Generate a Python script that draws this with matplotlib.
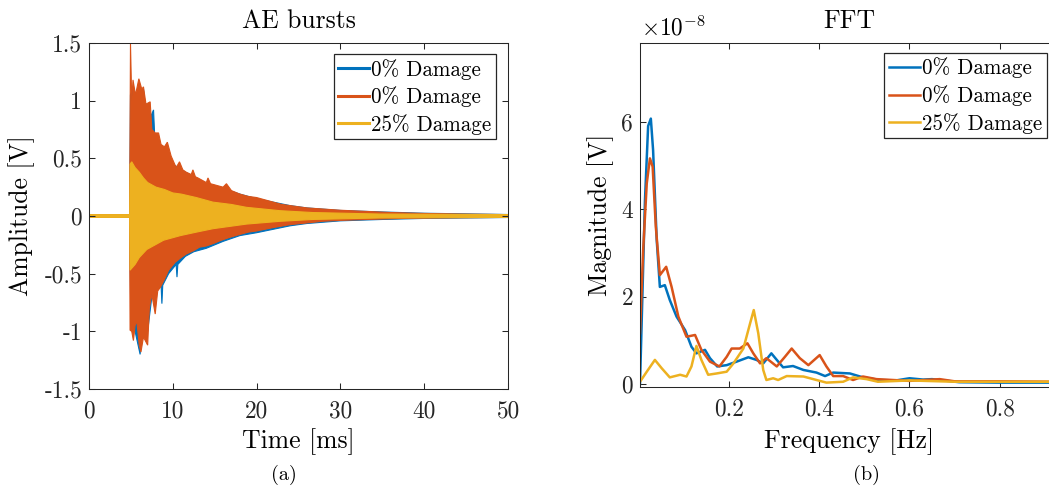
import numpy as np
import matplotlib
matplotlib.use("Agg")
import matplotlib.pyplot as plt

plt.rcParams['font.family'] = 'cmr10'
plt.rcParams['mathtext.fontset'] = 'cm'
plt.rcParams['axes.unicode_minus'] = False

c_blue = '#0072BD'
c_orange = '#D95319'
c_yellow = '#EDB120'
labels = ['0% Damage', '0% Damage', '25% Damage']

# AE bursts: envelope of the dense signal (time in ms, amplitude in V)
blue_up_t = [0, 4.85, 4.95, 5.3, 5.6, 6.5, 6.8, 7.3, 7.7, 7.9, 9.0, 10.0, 11.5, 13.0, 14.0,
             16.0, 18.0, 20.0, 22.0, 24.0, 26.0, 30.0, 35.0, 40.0, 50.0]
blue_up = [0.012, 0.012, 1.05, 1.12, 0.95, 1.1, 0.9, 0.85, 0.92, 0.6, 0.55, 0.45, 0.38, 0.32, 0.28,
           0.24, 0.19, 0.15, 0.12, 0.09, 0.07, 0.048, 0.035, 0.024, 0.013]
blue_lo_t = [0, 4.85, 5.0, 5.5, 6.1, 6.3, 7.0, 7.5, 8.6, 8.7, 8.8, 9.5, 10.4, 10.5, 10.6, 11.5,
             12.5, 14.0, 16.0, 18.0, 20.0, 22.0, 24.0, 26.0, 30.0, 35.0, 40.0, 50.0]
blue_lo = [-0.012, -0.012, -0.95, -1.0, -1.2, -1.0, -1.0, -0.7, -0.6, -0.76, -0.6, -0.5, -0.42,
           -0.53, -0.42, -0.35, -0.31, -0.28, -0.22, -0.17, -0.145, -0.115, -0.085, -0.065,
           -0.042, -0.03, -0.021, -0.013]

orange_up_t = [0, 4.85, 4.95, 5.1, 5.25, 5.55, 5.95, 6.3, 6.5, 6.8, 7.3, 7.5, 7.9, 8.3, 8.6, 9.0,
               9.35, 9.8, 10.4, 10.8, 11.2, 11.6, 12.2, 12.4, 12.7, 13.0, 14.0, 14.2, 14.5, 15.0,
               16.0, 16.4, 17.0, 18.0, 19.0, 20.0, 21.0, 22.0, 23.0, 24.0, 26.0, 28.0, 30.0,
               33.0, 36.0, 40.0, 45.0, 50.0]
orange_up = [0.012, 0.012, 1.5, 1.0, 1.18, 1.05, 1.19, 1.1, 1.12, 0.97, 0.99, 0.75, 0.72, 0.72, 0.62,
             0.6, 0.64, 0.52, 0.42, 0.47, 0.4, 0.38, 0.36, 0.4, 0.34, 0.33, 0.29, 0.33, 0.28, 0.27,
             0.25, 0.28, 0.22, 0.19, 0.17, 0.16, 0.14, 0.12, 0.1, 0.09, 0.07, 0.06, 0.05, 0.04,
             0.03, 0.022, 0.016, 0.012]
orange_lo_t = [0, 4.85, 4.9, 5.1, 5.3, 5.5, 5.7, 6.0, 6.2, 6.5, 7.0, 7.2, 7.5, 7.9, 8.2, 8.5, 9.0,
               9.5, 10.3, 11.0, 11.6, 12.5, 13.2, 14.0, 14.8, 15.8, 16.8, 18.0, 19.0, 20.0, 22.0,
               24.0, 26.0, 28.0, 30.0, 34.0, 38.0, 44.0, 50.0]
orange_lo = [-0.012, -0.012, -0.99, -1.0, -1.08, -0.95, -0.91, -1.12, -1.18, -1.05, -1.12, -0.8,
             -0.68, -0.85, -0.65, -0.62, -0.55, -0.47, -0.4, -0.36, -0.33, -0.3, -0.27, -0.26,
             -0.24, -0.21, -0.185, -0.16, -0.14, -0.13, -0.1, -0.075, -0.06, -0.045, -0.038,
             -0.028, -0.02, -0.015, -0.012]

yellow_up_t = [0, 4.85, 4.9, 5.1, 5.5, 6.0, 6.5, 7.0, 8.0, 9.0, 10.0, 11.0, 12.8, 14.8, 17.0, 18.8,
               22.8, 26.7, 34.7, 50.0]
yellow_up = [0.012, 0.012, 0.45, 0.47, 0.42, 0.38, 0.33, 0.29, 0.25, 0.23, 0.2, 0.19, 0.16, 0.12,
             0.1, 0.075, 0.046, 0.03, 0.017, 0.012]
yellow_lo_t = [0, 4.85, 4.9, 5.5, 6.0, 6.9, 8.9, 10.9, 12.8, 14.8, 18.8, 22.8, 26.7, 34.7, 50.0]
yellow_lo = [-0.012, -0.012, -0.47, -0.42, -0.36, -0.29, -0.21, -0.17, -0.14, -0.11, -0.07, -0.046,
             -0.03, -0.017, -0.012]

# FFT magnitude (frequency in Hz, magnitude in 1e-8 V)
blue_f = [0.003, 0.014, 0.021, 0.027, 0.032, 0.04, 0.047, 0.058, 0.069, 0.084, 0.103, 0.117, 0.128,
          0.147, 0.158, 0.174, 0.195, 0.217, 0.243, 0.261, 0.276, 0.294, 0.306, 0.32, 0.342, 0.365,
          0.394, 0.413, 0.431, 0.468, 0.497, 0.534, 0.57, 0.6, 0.63, 0.65, 0.71, 0.8, 0.93]
blue_mag = [0.0, 4.2, 5.9, 6.07, 5.35, 3.3, 2.22, 2.26, 1.92, 1.54, 1.23, 0.85, 0.7, 0.78, 0.59, 0.4,
            0.43, 0.51, 0.61, 0.55, 0.47, 0.7, 0.55, 0.38, 0.41, 0.32, 0.26, 0.18, 0.26, 0.24, 0.15,
            0.09, 0.08, 0.13, 0.1, 0.11, 0.04, 0.03, 0.03]
orange_f = [0.003, 0.01, 0.018, 0.025, 0.031, 0.038, 0.047, 0.061, 0.073, 0.088, 0.106, 0.125, 0.139,
            0.158, 0.179, 0.195, 0.206, 0.224, 0.241, 0.254, 0.269, 0.283, 0.306, 0.324, 0.339,
            0.357, 0.376, 0.401, 0.416, 0.431, 0.453, 0.475, 0.497, 0.527, 0.6, 0.667, 0.7, 0.8, 0.93]
orange_mag = [1.16, 3.06, 4.59, 5.16, 4.97, 3.6, 2.49, 2.68, 2.22, 1.54, 1.08, 1.12, 0.78, 0.51, 0.4,
              0.62, 0.81, 0.81, 0.93, 0.7, 0.47, 0.59, 0.4, 0.62, 0.81, 0.59, 0.43, 0.66, 0.4, 0.18,
              0.18, 0.09, 0.17, 0.11, 0.07, 0.11, 0.06, 0.06, 0.05]
yellow_f = [0.003, 0.018, 0.036, 0.051, 0.069, 0.092, 0.106, 0.117, 0.128, 0.139, 0.154, 0.173,
            0.195, 0.21, 0.232, 0.247, 0.255, 0.265, 0.276, 0.283, 0.298, 0.309, 0.328, 0.365,
            0.394, 0.416, 0.453, 0.475, 0.505, 0.53, 0.6, 0.7, 0.8, 0.93]
yellow_mag = [0.05, 0.28, 0.55, 0.36, 0.15, 0.21, 0.17, 0.4, 0.87, 0.55, 0.21, 0.24, 0.28, 0.47, 0.81,
              1.39, 1.69, 1.16, 0.32, 0.09, 0.13, 0.09, 0.18, 0.17, 0.09, 0.03, 0.05, 0.15, 0.11,
              0.05, 0.08, 0.05, 0.05, 0.05]

fig = plt.figure(figsize=(10.49, 4.9), dpi=100)
W, H = 1049.0, 490.0
ax1 = fig.add_axes([89 / W, 1 - 389 / H, 419 / W, 346 / H])
ax2 = fig.add_axes([640 / W, 1 - 387 / H, 418 / W, 344 / H])

# left panel
for tu, u, tl, l, c in [(blue_up_t, blue_up, blue_lo_t, blue_lo, c_blue),
                        (orange_up_t, orange_up, orange_lo_t, orange_lo, c_orange),
                        (yellow_up_t, yellow_up, yellow_lo_t, yellow_lo, c_yellow)]:
    xs = np.concatenate([tu, tl[::-1]])
    ys = np.concatenate([u, l[::-1]])
    ax1.fill(xs, ys, color=c, lw=0.8)
for c, lab in zip([c_blue, c_orange, c_yellow], labels):
    ax1.plot([], [], color=c, lw=2.2, label=lab)

ax1.set_xlim(0, 50)
ax1.set_ylim(-1.5, 1.5)
ax1.set_xticks([0, 10, 20, 30, 40, 50])
ax1.set_xticklabels(['0', '10', '20', '30', '40', '50'])
ax1.set_yticks([-1.5, -1, -0.5, 0, 0.5, 1, 1.5])
ax1.set_yticklabels(['-1.5', '-1', '-0.5', '0', '0.5', '1', '1.5'])
ax1.set_title('AE bursts', fontsize=18.5, pad=11)
ax1.set_xlabel('Time [ms]', fontsize=18.5)
ax1.set_ylabel('Amplitude [V]', fontsize=18.5)
ax1.xaxis.set_label_coords(0.5, -0.113)
ax1.yaxis.set_label_coords(-0.129, 0.5)

# right panel
ax2.plot(blue_f, blue_mag, color=c_blue, lw=1.8, label=labels[0])
ax2.plot(orange_f, orange_mag, color=c_orange, lw=1.8, label=labels[1])
ax2.plot(yellow_f, yellow_mag, color=c_yellow, lw=1.8, label=labels[2])
ax2.set_xlim(0.003, 0.929)
ax2.set_ylim(-0.07, 7.8)
ax2.set_xticks([0.2, 0.4, 0.6, 0.8])
ax2.set_xticklabels(['0.2', '0.4', '0.6', '0.8'])
ax2.set_yticks([0, 2, 4, 6])
ax2.set_yticklabels(['0', '2', '4', '6'])
ax2.set_title('FFT', fontsize=18.5, pad=11)
ax2.set_xlabel('Frequency [Hz]', fontsize=18.5)
ax2.set_ylabel('Magnitude [V]', fontsize=18.5)
ax2.xaxis.set_label_coords(0.5, -0.119)
ax2.yaxis.set_label_coords(-0.062, 0.5)
fig.text(641 / W, 1 - 35 / H, r'$\times10^{-8}$', fontsize=16.8, ha='left', va='baseline')

for ax, anchor in [(ax1, (0.971, 0.968)), (ax2, (0.973, 0.971))]:
    for s in ax.spines.values():
        s.set_color('#262626')
        s.set_linewidth(0.75)
    ax.tick_params(direction='in', length=4, width=0.75, color='#262626', labelsize=16.8,
                   top=True, right=True, labelcolor='#262626')
    ax.tick_params(axis='x', pad=8)
    ax.tick_params(axis='y', pad=5)
    leg = ax.legend(loc='upper right', bbox_to_anchor=anchor, borderaxespad=0, fontsize=15.2,
                    fancybox=False, framealpha=1, edgecolor='#262626', handlelength=1.45,
                    handletextpad=0.1, labelspacing=0.32, borderpad=0.22)
    leg.get_frame().set_linewidth(0.9)

fig.text(283.7 / W, 1 - 475 / H, '(a)', fontsize=14.6, ha='center', va='center')
fig.text(866.5 / W, 1 - 475 / H, '(b)', fontsize=14.6, ha='center', va='center')

fig.savefig('out.png', dpi=100)
